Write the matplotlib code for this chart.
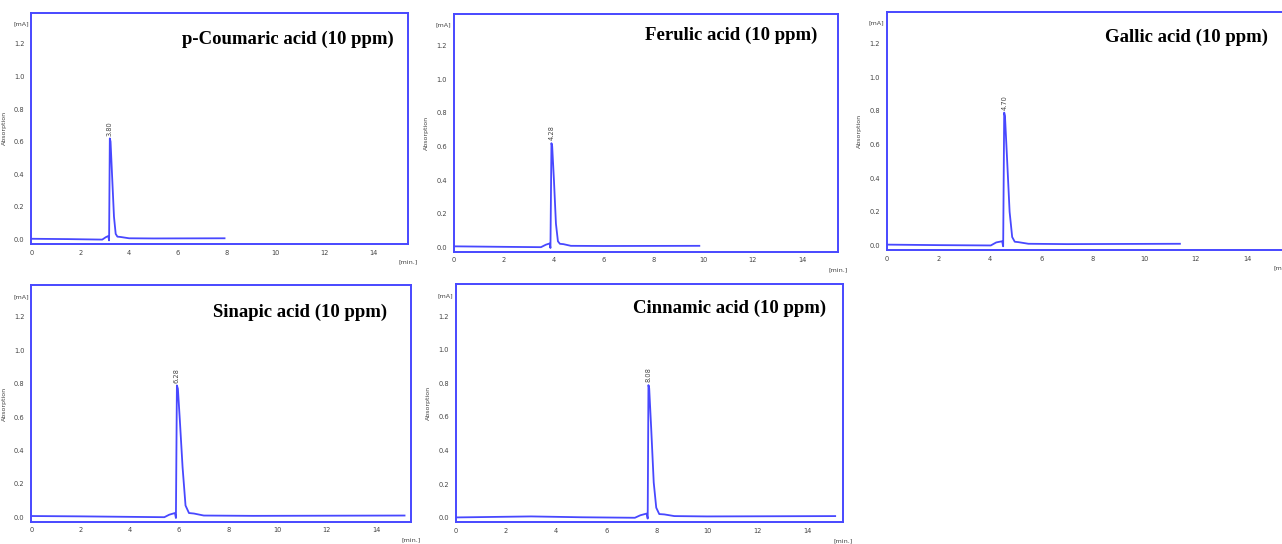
import matplotlib
matplotlib.use("Agg")
import matplotlib.pyplot as plt

# ---------------- data ----------------
titles = ["p-Coumaric acid (10 ppm)", "Ferulic acid (10 ppm)", "Gallic acid (10 ppm)",
          "Sinapic acid (10 ppm)", "Cinnamic acid (10 ppm)"]
peak_labels = ["3.80", "4.28", "4.70", "6.28", "8.08"]

t_coumaric = [0, 1.5, 2.9, 3.05, 3.15, 3.18, 3.21, 3.24, 3.3, 3.38, 3.45, 3.52, 3.65, 4.0, 5.0, 7.9]
a_coumaric = [0.005, 0.003, 0.0, 0.015, 0.022, -0.005, 0.62, 0.6, 0.4, 0.14, 0.035, 0.018, 0.016, 0.008, 0.007, 0.008]

t_ferulic = [0, 2.0, 3.5, 3.7, 3.85, 3.88, 3.92, 3.95, 4.02, 4.1, 4.18, 4.26, 4.4, 4.7, 6.0, 9.85]
a_ferulic = [0.005, 0.002, 0.0, 0.015, 0.022, -0.005, 0.62, 0.6, 0.4, 0.14, 0.035, 0.02, 0.018, 0.008, 0.007, 0.008]

t_gallic = [0, 2.0, 4.04, 4.25, 4.48, 4.52, 4.56, 4.59, 4.67, 4.77, 4.87, 4.97, 5.1, 5.5, 7.0, 11.38]
a_gallic = [0.005, 0.002, 0.0, 0.018, 0.025, -0.005, 0.79, 0.77, 0.52, 0.2, 0.05, 0.022, 0.02, 0.01, 0.008, 0.01]

t_sinapic = [0, 2.0, 5.4, 5.6, 5.83, 5.87, 5.91, 5.95, 6.03, 6.14, 6.26, 6.4, 6.6, 7.0, 9.0, 15.15]
a_sinapic = [0.007, 0.005, 0.0, 0.015, 0.025, -0.005, 0.79, 0.77, 0.58, 0.3, 0.07, 0.025, 0.022, 0.01, 0.008, 0.01]

t_cinnamic = [0, 3.0, 5.0, 7.13, 7.35, 7.6, 7.64, 7.67, 7.7, 7.78, 7.88, 7.98, 8.1, 8.3, 8.7, 10.0, 15.1]
a_cinnamic = [0.002, 0.008, 0.003, 0.0, 0.015, 0.025, -0.005, 0.79, 0.77, 0.53, 0.21, 0.06, 0.022, 0.02, 0.01, 0.008, 0.01]

times = [t_coumaric, t_ferulic, t_gallic, t_sinapic, t_cinnamic]
absorb = [a_coumaric, a_ferulic, a_gallic, a_sinapic, a_cinnamic]

x_ticks = [0, 2, 4, 6, 8, 10, 12, 14]
y_ticks = [0.0, 0.2, 0.4, 0.6, 0.8, 1.0, 1.2]

# ---------------- layout ----------------
W, H = 1282, 544
fig = plt.figure(figsize=(W / 100, H / 100), dpi=100)

# axes boxes in pixels: (left, top, right, bottom)
boxes = [(31.3, 12.7, 408.0, 244.0),
         (453.7, 14.0, 837.7, 251.7),
         (886.7, 11.7, 1283.5, 250.0),
         (31.3, 285.3, 410.7, 521.7),
         (455.7, 284.3, 842.7, 522.3)]
# title right edge / vertical centre in pixels
title_pos = [(394, 39), (817, 35), (1268, 37), (387, 312), (826, 308)]

blue = "#4848ff"
gray = "#444444"

for i in range(5):
    l, t, r, b = boxes[i]
    ax = fig.add_axes([l / W, 1 - b / H, (r - l) / W, (b - t) / H])
    ax.plot(times[i], absorb[i], color=blue, lw=1.3)
    ax.set_xlim(0, 15.4)
    ax.set_ylim(-0.027, 1.39)
    ax.set_xticks(x_ticks)
    ax.set_xticklabels([str(v) for v in x_ticks])
    ax.set_yticks(y_ticks)
    ax.set_yticklabels([f"{v:.1f}" for v in y_ticks])
    ax.tick_params(length=0, labelsize=4.8, labelcolor=gray)
    ax.tick_params(axis="x", pad=4)
    ax.tick_params(axis="y", pad=5)
    for sp in ax.spines.values():
        sp.set_color(blue)
        sp.set_linewidth(1.4)
    ax.set_ylabel("Absorption", fontsize=4.5, color=gray, labelpad=5)
    ax.annotate("[mA]", xy=(0, 1), xycoords="axes fraction", xytext=(-7.5, -8),
                textcoords="offset points", ha="center", va="center",
                fontsize=4.6, color=gray)
    ax.annotate("[min.]", xy=(1, 0), xycoords="axes fraction", xytext=(0, -13),
                textcoords="offset points", ha="center", va="center",
                fontsize=4.6, color=gray)
    # peak retention-time label
    k = max(range(len(absorb[i])), key=lambda j: absorb[i][j])
    ax.annotate(peak_labels[i], xy=(times[i][k], absorb[i][k]), xytext=(0, 2),
                textcoords="offset points", rotation=90, ha="center", va="bottom",
                fontsize=4.8, color=gray)
    tx, ty = title_pos[i]
    fig.text(tx / W, 1 - ty / H, titles[i], ha="right", va="center",
             fontsize=13.5, fontweight="bold", family="Liberation Serif", color="black")

fig.savefig("out.png", dpi=100)
